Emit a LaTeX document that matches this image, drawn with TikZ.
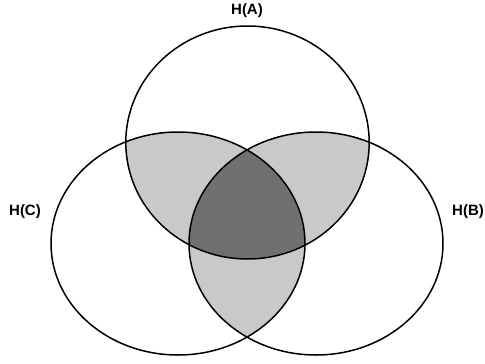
\documentclass[tikz,border=0pt]{standalone}
\usepackage{fontspec}
\setmainfont{Liberation Sans}
\definecolor{lightfill}{gray}{0.79}
\definecolor{darkfill}{gray}{0.44}
\begin{document}
\begin{tikzpicture}[x=1pt,y=-1pt,line width=1.5pt,
  lbl/.style={font=\bfseries\fontsize{15}{17}\selectfont,inner sep=0pt}]
\useasboundingbox (0,0) rectangle (485,364);
\def\pA{(247.5,142.5) ellipse [x radius=121.7pt, y radius=116.5pt]}
\def\pC{(178,243.5) ellipse [x radius=127pt, y radius=111.5pt]}
\def\pB{(316,243.5) ellipse [x radius=127pt, y radius=111.5pt]}
\begin{scope}
  \clip \pA;
  \fill[lightfill] \pB;
  \fill[lightfill] \pC;
\end{scope}
\begin{scope}
  \clip \pB;
  \fill[lightfill] \pC;
\end{scope}
\begin{scope}
  \clip \pA;
  \clip \pB;
  \fill[darkfill] \pC;
\end{scope}
\draw \pA;
\draw \pB;
\draw \pC;
\node[lbl] (la) at (247,11) {H(A)};
\node[lbl] (lc) at (25,212) {H(C)};
\node[lbl] (lb) at (468,212) {H(B)};
\end{tikzpicture}
\end{document}
